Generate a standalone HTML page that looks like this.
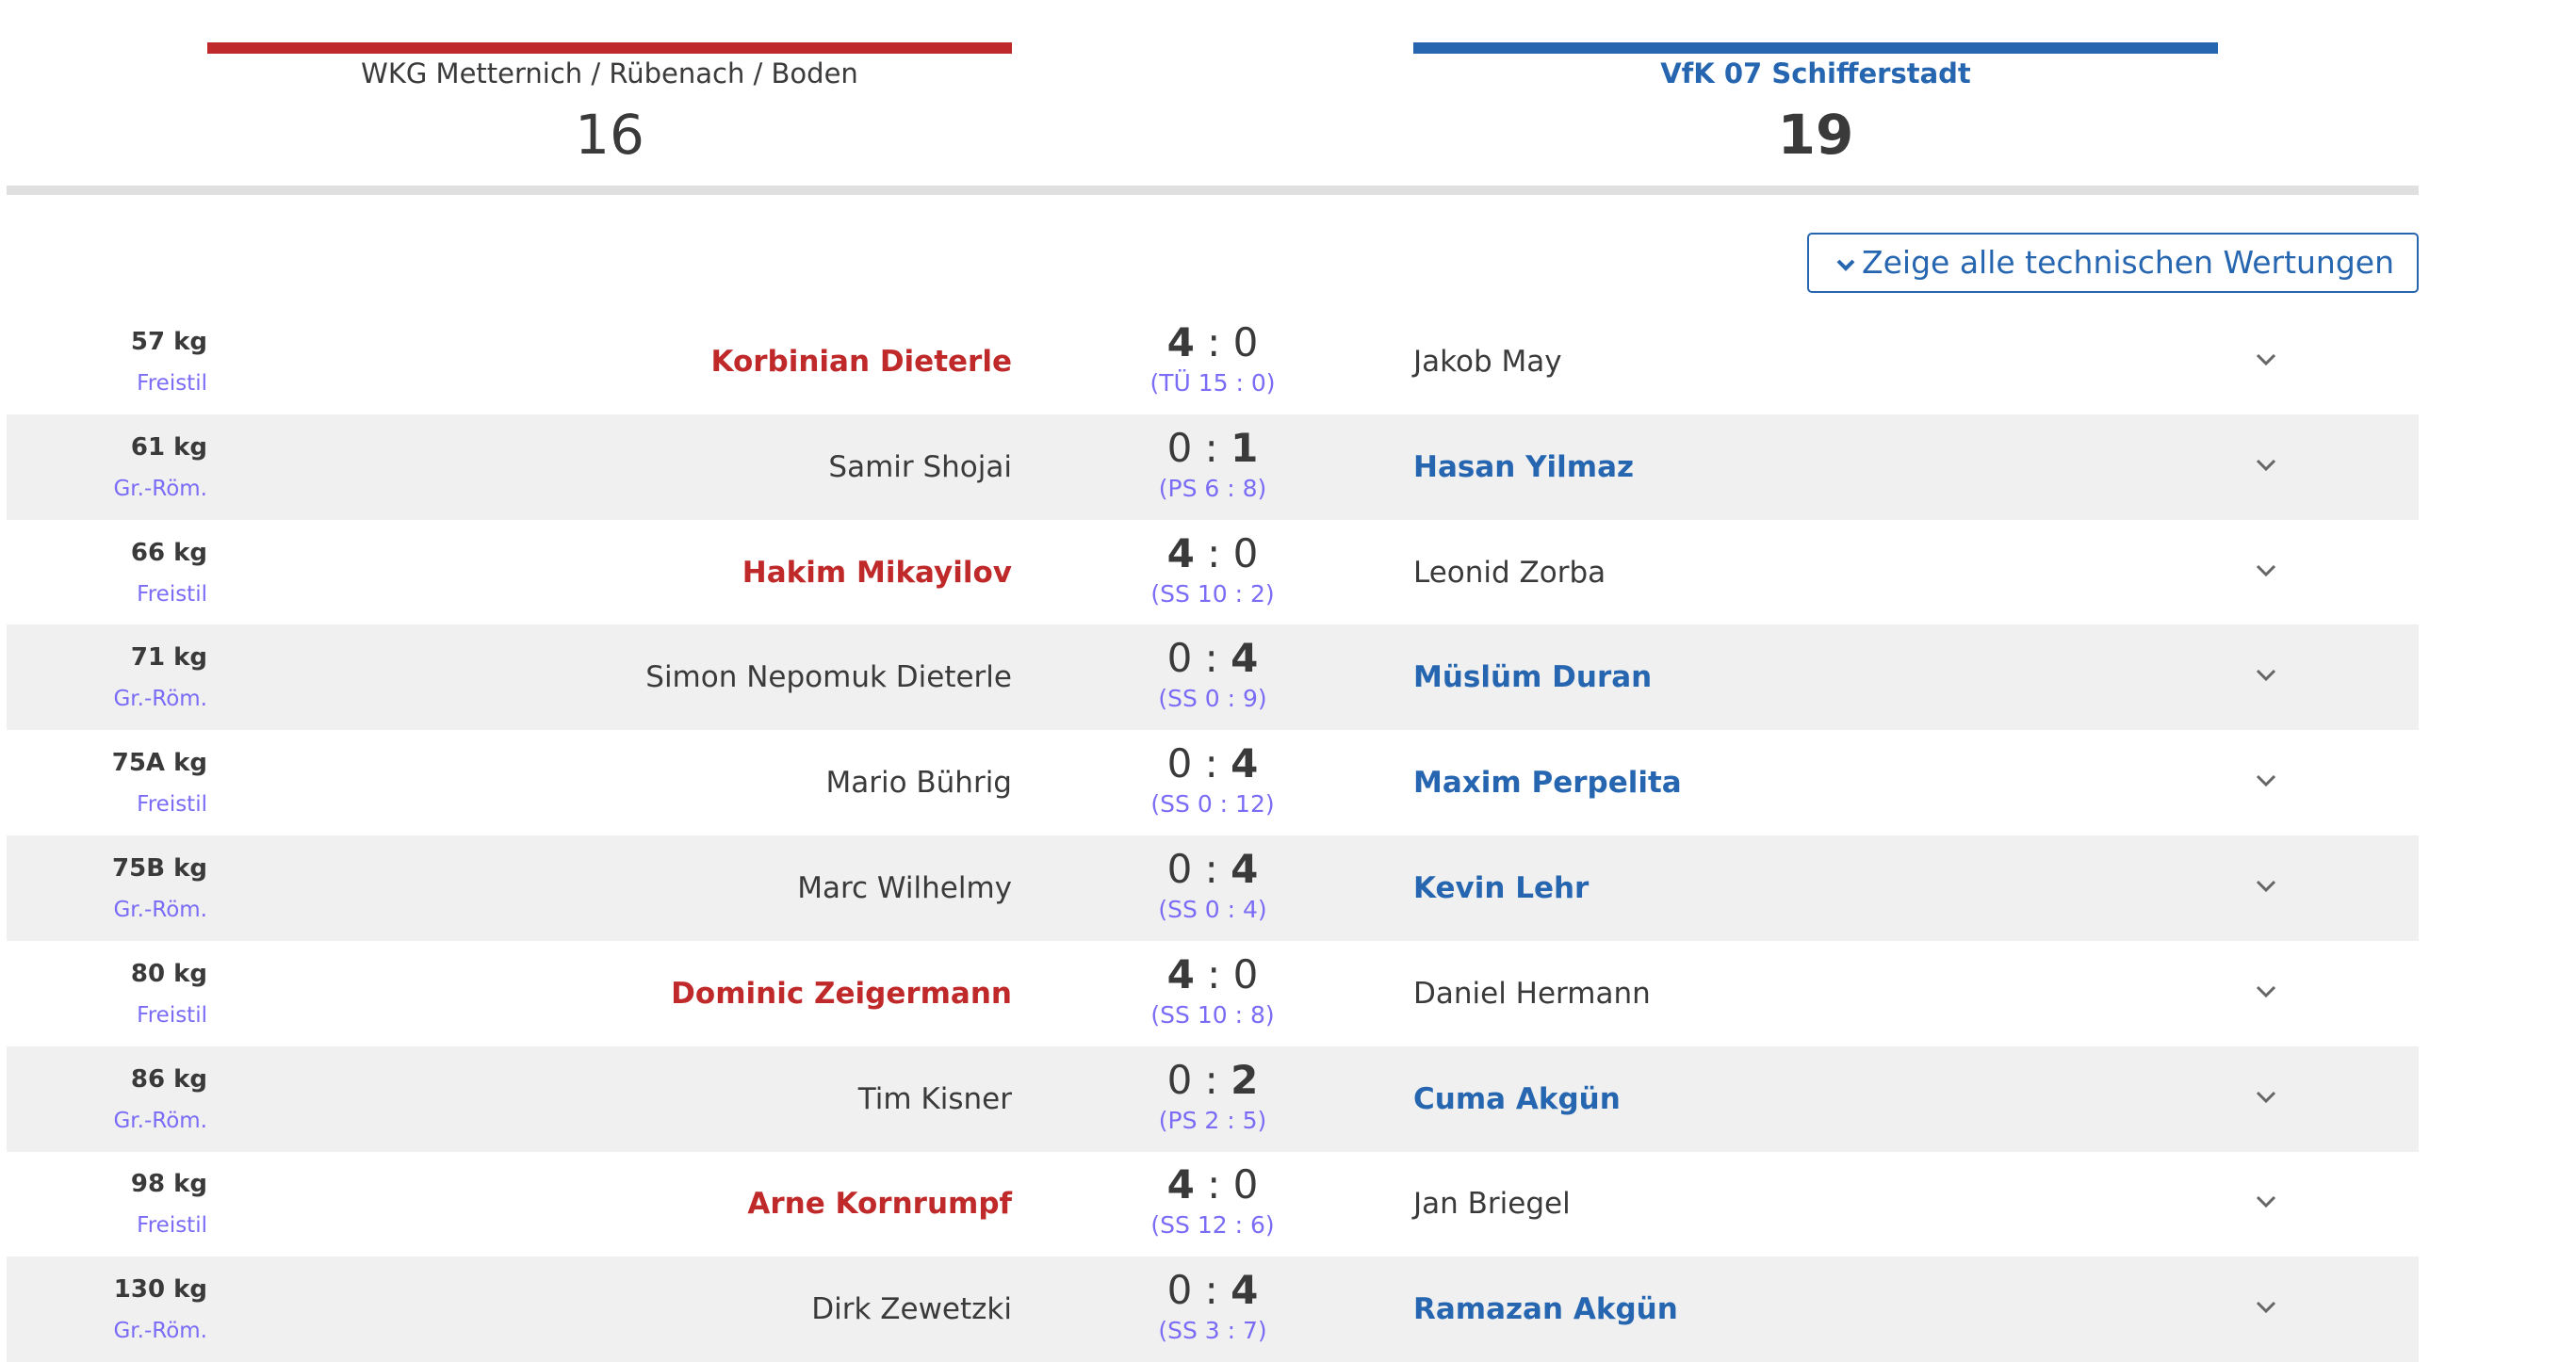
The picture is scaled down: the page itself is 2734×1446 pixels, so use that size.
<!DOCTYPE html>
<html><head><meta charset="utf-8"><style>
*{margin:0;padding:0;box-sizing:border-box}
body{width:2734px;height:1430px;background:#fff;position:relative;overflow:hidden;font-family:"DejaVu Sans","Liberation Sans",sans-serif;color:#3a3a3a}
.a{position:absolute;white-space:nowrap}
.row{position:absolute;left:7px;width:2560px;height:112px}
.g{background:#f0f0f0}
.w{right:2347px;text-align:right;top:20px;font-size:26px;font-weight:bold;line-height:30px}
.s{right:2347px;text-align:right;top:65px;font-size:23px;color:#7a6cf5;line-height:28px}
.ln{right:1493px;text-align:right;top:38px;font-size:31px;line-height:36px}
.rn{left:1493px;top:38px;font-size:31px;line-height:36px}
.red{color:#c0292a;font-weight:bold}
.blu{color:#2666b0;font-weight:bold}
.sc{left:1180px;width:200px;text-align:center;top:12px;font-size:42px;line-height:48px}
.sub{left:1130px;width:300px;text-align:center;top:64px;font-size:25px;line-height:30px;color:#7a6cf5}
.ch{left:2384px;top:40px;width:28px;height:28px}
</style></head><body>
<div class="a" style="left:220px;top:45px;width:854px;height:12px;background:#c0292a"></div>
<div class="a" style="left:1500px;top:45px;width:854px;height:12px;background:#2666b0"></div>
<div class="a" style="left:220px;width:854px;text-align:center;top:60px;font-size:29px;line-height:36px">WKG Metternich / Rübenach / Boden</div>
<div class="a" style="left:1500px;width:854px;text-align:center;top:60px;font-size:29px;line-height:36px;color:#2666b0;font-weight:bold">VfK 07 Schifferstadt</div>
<div class="a" style="left:220px;width:854px;text-align:center;top:108px;font-size:58px;line-height:70px">16</div>
<div class="a" style="left:1500px;width:854px;text-align:center;top:108px;font-size:58px;line-height:70px;font-weight:bold">19</div>
<div class="a" style="left:7px;top:197px;width:2560px;height:10px;background:#e0e0e0"></div>
<div class="a" style="left:1918px;top:247px;width:649px;height:64px;border:2px solid #2666b0;border-radius:5px;color:#2666b0;font-size:33px;line-height:60px;padding-left:28px">
<svg width="22" height="16" style="vertical-align:middle;margin-right:6px" viewBox="0 0 22 16"><path d="M3 4 L11 12 L19 4" stroke="#2666b0" stroke-width="4" fill="none"/></svg>Zeige alle technischen Wertungen</div>

<div class="row" style="top:328px"><div class="a w">57 kg</div><div class="a s">Freistil</div><div class="a ln red">Korbinian Dieterle</div><div class="a sc"><b>4</b> : 0</div><div class="a sub">(TÜ 15 : 0)</div><div class="a rn">Jakob May</div><svg class="a ch" viewBox="0 0 28 28"><path d="M5 9 L14 18 L23 9" stroke="#666" stroke-width="3" fill="none"/></svg></div>
<div class="row g" style="top:440px"><div class="a w">61 kg</div><div class="a s">Gr.-Röm.</div><div class="a ln">Samir Shojai</div><div class="a sc">0 : <b>1</b></div><div class="a sub">(PS 6 : 8)</div><div class="a rn blu">Hasan Yilmaz</div><svg class="a ch" viewBox="0 0 28 28"><path d="M5 9 L14 18 L23 9" stroke="#666" stroke-width="3" fill="none"/></svg></div>
<div class="row" style="top:552px"><div class="a w">66 kg</div><div class="a s">Freistil</div><div class="a ln red">Hakim Mikayilov</div><div class="a sc"><b>4</b> : 0</div><div class="a sub">(SS 10 : 2)</div><div class="a rn">Leonid Zorba</div><svg class="a ch" viewBox="0 0 28 28"><path d="M5 9 L14 18 L23 9" stroke="#666" stroke-width="3" fill="none"/></svg></div>
<div class="row g" style="top:663px"><div class="a w">71 kg</div><div class="a s">Gr.-Röm.</div><div class="a ln">Simon Nepomuk Dieterle</div><div class="a sc">0 : <b>4</b></div><div class="a sub">(SS 0 : 9)</div><div class="a rn blu">Müslüm Duran</div><svg class="a ch" viewBox="0 0 28 28"><path d="M5 9 L14 18 L23 9" stroke="#666" stroke-width="3" fill="none"/></svg></div>
<div class="row" style="top:775px"><div class="a w">75A kg</div><div class="a s">Freistil</div><div class="a ln">Mario Bührig</div><div class="a sc">0 : <b>4</b></div><div class="a sub">(SS 0 : 12)</div><div class="a rn blu">Maxim Perpelita</div><svg class="a ch" viewBox="0 0 28 28"><path d="M5 9 L14 18 L23 9" stroke="#666" stroke-width="3" fill="none"/></svg></div>
<div class="row g" style="top:887px"><div class="a w">75B kg</div><div class="a s">Gr.-Röm.</div><div class="a ln">Marc Wilhelmy</div><div class="a sc">0 : <b>4</b></div><div class="a sub">(SS 0 : 4)</div><div class="a rn blu">Kevin Lehr</div><svg class="a ch" viewBox="0 0 28 28"><path d="M5 9 L14 18 L23 9" stroke="#666" stroke-width="3" fill="none"/></svg></div>
<div class="row" style="top:999px"><div class="a w">80 kg</div><div class="a s">Freistil</div><div class="a ln red">Dominic Zeigermann</div><div class="a sc"><b>4</b> : 0</div><div class="a sub">(SS 10 : 8)</div><div class="a rn">Daniel Hermann</div><svg class="a ch" viewBox="0 0 28 28"><path d="M5 9 L14 18 L23 9" stroke="#666" stroke-width="3" fill="none"/></svg></div>
<div class="row g" style="top:1111px"><div class="a w">86 kg</div><div class="a s">Gr.-Röm.</div><div class="a ln">Tim Kisner</div><div class="a sc">0 : <b>2</b></div><div class="a sub">(PS 2 : 5)</div><div class="a rn blu">Cuma Akgün</div><svg class="a ch" viewBox="0 0 28 28"><path d="M5 9 L14 18 L23 9" stroke="#666" stroke-width="3" fill="none"/></svg></div>
<div class="row" style="top:1222px"><div class="a w">98 kg</div><div class="a s">Freistil</div><div class="a ln red">Arne Kornrumpf</div><div class="a sc"><b>4</b> : 0</div><div class="a sub">(SS 12 : 6)</div><div class="a rn">Jan Briegel</div><svg class="a ch" viewBox="0 0 28 28"><path d="M5 9 L14 18 L23 9" stroke="#666" stroke-width="3" fill="none"/></svg></div>
<div class="row g" style="top:1334px"><div class="a w">130 kg</div><div class="a s">Gr.-Röm.</div><div class="a ln">Dirk Zewetzki</div><div class="a sc">0 : <b>4</b></div><div class="a sub">(SS 3 : 7)</div><div class="a rn blu">Ramazan Akgün</div><svg class="a ch" viewBox="0 0 28 28"><path d="M5 9 L14 18 L23 9" stroke="#666" stroke-width="3" fill="none"/></svg></div>
</body></html>
